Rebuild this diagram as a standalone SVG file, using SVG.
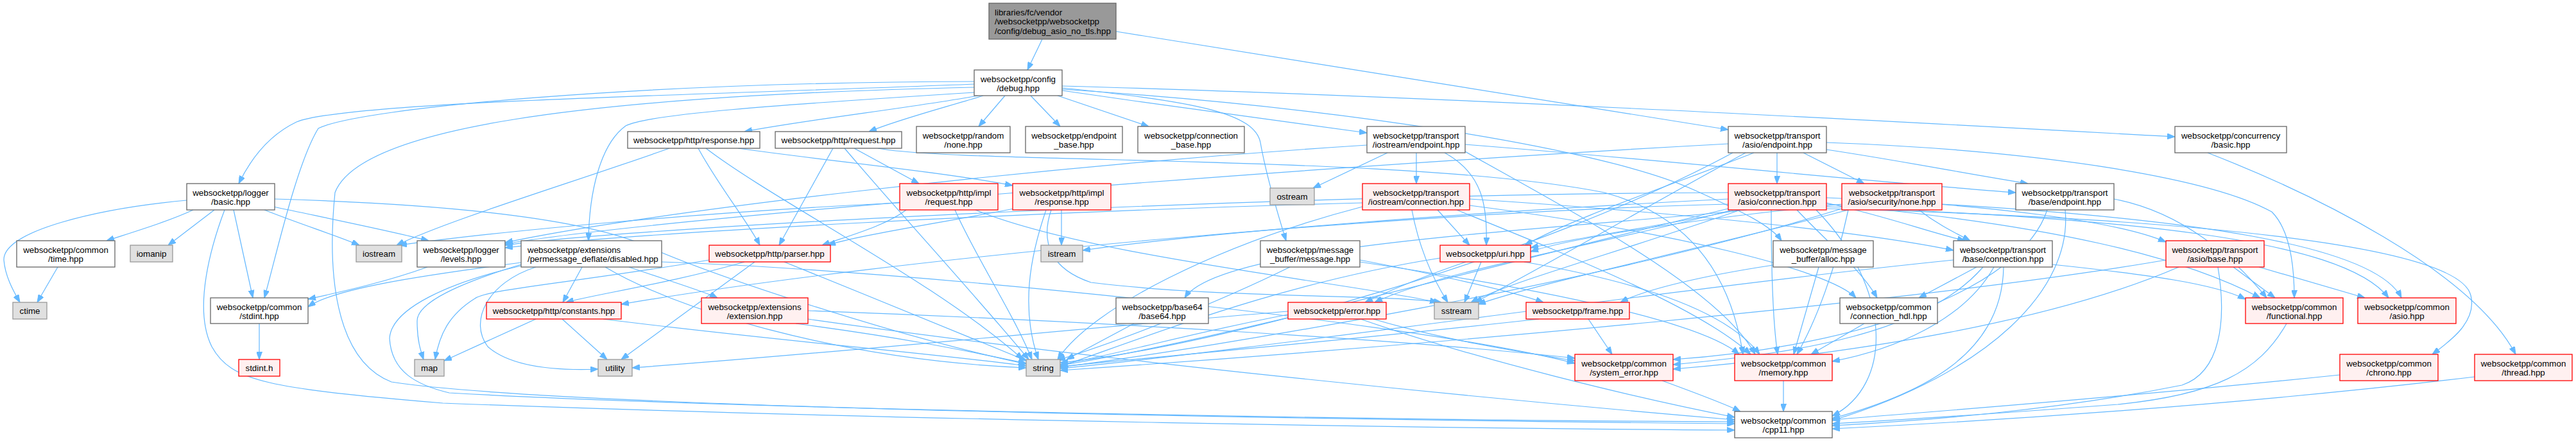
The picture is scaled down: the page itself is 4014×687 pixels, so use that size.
<svg xmlns="http://www.w3.org/2000/svg" width="4014" height="687" viewBox="0 0 4014 687">
<defs>
<style>
rect{stroke-width:1.3}
.n rect{fill:#ffffff;stroke:#666666}
.g rect{fill:#e0e0e0;stroke:#999999}
.r rect{fill:#fff0f0;stroke:#ff0000}
.root rect{fill:#999999;stroke:#666666}
text{font-family:"Liberation Sans",Arial,Helvetica,sans-serif;font-size:13.33px;fill:#000;text-anchor:middle}
.l text{text-anchor:start}
#edges path{fill:none;stroke:#63b8ff;stroke-width:1.2;marker-end:url(#ah)}
</style>
<marker id="ah" viewBox="0 0 12 9" refX="12" refY="4.5" markerWidth="12" markerHeight="9" markerUnits="userSpaceOnUse" orient="auto"><path d="M0,0 L12,4.5 L0,9 z" fill="#63b8ff" stroke="#63b8ff"/></marker>
</defs>
<rect width="4014" height="687" fill="#ffffff"/>
<g id="edges">
<path d="M1624,61 C1617,76 1609,92 1601,109"/>
<path d="M1739,49 C2050,99 2380,152 2693,202"/>
<path d="M1518,131 C1100,148 540,158 462,190 C420,210 392,245 372,286"/>
<path d="M1524,149 C1420,168 1260,186 1160,205"/>
<path d="M1532,149 C1470,168 1400,186 1354,205"/>
<path d="M1566,149 L1525,197"/>
<path d="M1606,149 L1652,197"/>
<path d="M1648,149 L1790,197"/>
<path d="M1655,141 C1820,165 2000,190 2130,207"/>
<path d="M1655,134 C2250,150 3000,192 3389,213"/>
<path d="M1655,137 C1870,158 1955,178 1964,222 C1972,268 1990,330 2004,375"/>
<path d="M1655,139 C2100,168 2500,232 2640,296 C2720,332 2760,352 2776,375"/>
<path d="M1518,144 C1200,164 1010,178 975,196 C935,225 918,300 917,375"/>
<path d="M1518,127 C1000,128 560,168 496,200 C462,255 430,400 412,464"/>
<path d="M1518,136 C900,150 560,200 522,300 C510,420 520,560 610,595 C900,640 2300,656 2703,660"/>
<path d="M291,312 C150,325 5,360 6,405 C8,430 20,452 31,471"/>
<path d="M301,327 C262,345 212,360 166,375"/>
<path d="M334,327 L262,382"/>
<path d="M350,327 C330,380 300,480 330,540 C360,595 420,605 690,628 C1400,655 2300,668 2703,670"/>
<path d="M364,327 L394,464"/>
<path d="M412,327 C470,350 522,366 560,382"/>
<path d="M426,322 C520,342 610,360 668,375"/>
<path d="M428,310 C700,318 900,340 1000,380 C1110,430 1400,525 1599,567"/>
<path d="M666,416 C600,440 525,456 480,466"/>
<path d="M90,416 L58,471"/>
<path d="M404,504 L404,560"/>
<path d="M1043,231 C900,282 700,342 618,382"/>
<path d="M1088,231 C1120,290 1165,345 1184,382"/>
<path d="M1100,231 C1210,315 1460,440 1594,560"/>
<path d="M1150,231 C1300,252 1470,268 1578,289"/>
<path d="M1298,231 L1214,382"/>
<path d="M1316,231 C1400,330 1520,460 1603,560"/>
<path d="M1331,231 L1432,286"/>
<path d="M1368,231 C1500,256 2200,240 2500,300 C2650,340 2700,450 2716,552"/>
<path d="M1412,327 C1380,352 1320,368 1281,382"/>
<path d="M1488,327 C1520,400 1580,490 1608,560"/>
<path d="M1520,327 C1700,400 2100,440 2240,471"/>
<path d="M1402,316 C1100,330 780,360 622,382"/>
<path d="M1654,327 L1654,382"/>
<path d="M1580,325 C1450,350 1330,368 1290,382"/>
<path d="M1630,327 C1605,400 1590,480 1618,560"/>
<path d="M1638,327 C1620,380 1640,420 1700,440 C1900,465 2150,458 2246,471"/>
<path d="M2162,238 L2046,293"/>
<path d="M2207,238 L2207,286"/>
<path d="M2251,238 C2310,270 2318,320 2316,382"/>
<path d="M2283,236 C2450,330 2680,450 2735,552"/>
<path d="M2283,225 C2600,250 2900,282 3141,300"/>
<path d="M2130,226 C1600,260 1000,332 787,378"/>
<path d="M2290,310 C2600,330 2900,360 3044,390"/>
<path d="M2240,327 L2290,382"/>
<path d="M2123,316 C1600,330 1000,362 787,386"/>
<path d="M2290,320 C2600,360 2850,420 2892,464"/>
<path d="M2270,327 C2450,400 2650,480 2728,552"/>
<path d="M2123,322 C1900,380 1700,480 1648,560"/>
<path d="M2200,327 C2210,380 2230,430 2256,471"/>
<path d="M2769,238 L2769,286"/>
<path d="M2810,238 L2905,286"/>
<path d="M2846,233 C2960,250 3060,270 3160,286"/>
<path d="M2733,238 C2600,290 2450,340 2376,382"/>
<path d="M2693,224 C2000,262 1000,342 787,380"/>
<path d="M2846,222 C3200,235 3450,280 3540,330 C3570,360 3575,420 3575,464"/>
<path d="M2720,238 C2550,330 2400,420 2298,471"/>
<path d="M2700,238 C2400,400 1900,540 1652,565"/>
<path d="M2846,308 C3100,318 3300,345 3375,377"/>
<path d="M2846,316 C2950,340 3000,360 3062,375"/>
<path d="M2693,300 C2000,302 1000,352 787,382"/>
<path d="M2693,318 C2200,330 1400,400 968,474"/>
<path d="M2722,327 C2400,360 1900,380 1846,464"/>
<path d="M2700,327 C2500,380 2250,420 2142,471"/>
<path d="M2708,327 C2600,350 2450,372 2385,386"/>
<path d="M2846,322 C3300,340 3650,370 3722,464"/>
<path d="M2846,325 C3400,340 3830,380 3850,460 C3860,500 3820,530 3790,552"/>
<path d="M2830,327 C2950,450 2950,600 2855,648"/>
<path d="M2760,327 C2760,420 2762,500 2770,552"/>
<path d="M2846,318 C3200,350 3400,400 3522,464"/>
<path d="M2800,327 C2850,380 2900,420 2925,464"/>
<path d="M2693,310 C2300,330 1900,360 1687,390"/>
<path d="M2712,327 C2500,400 2350,440 2292,471"/>
<path d="M2693,325 C2300,420 1900,530 1652,569"/>
<path d="M2870,318 C2650,340 2450,370 2385,392"/>
<path d="M2990,327 C3020,350 3045,362 3070,375"/>
<path d="M3026,318 C3400,340 3700,380 3742,464"/>
<path d="M2880,327 C2860,420 2830,500 2800,552"/>
<path d="M2880,327 C2600,400 2400,440 2303,474"/>
<path d="M2870,325 C2500,440 1900,540 1652,572"/>
<path d="M3218,327 C3230,450 3100,580 2855,655"/>
<path d="M3294,310 C3400,330 3480,400 3532,464"/>
<path d="M3190,327 C3150,450 2900,540 2607,560"/>
<path d="M3080,416 L2990,464"/>
<path d="M3107,416 C3060,500 2950,545 2855,563"/>
<path d="M3090,416 C3000,520 2800,550 2607,568"/>
<path d="M3122,416 C3120,550 3000,612 2855,652"/>
<path d="M3198,412 C3350,428 3450,442 3499,466"/>
<path d="M3044,405 C2600,450 2000,540 1652,574"/>
<path d="M3480,416 L3545,464"/>
<path d="M3520,416 L3685,464"/>
<path d="M3456,416 C3470,500 3460,580 3400,600 C3200,640 3000,655 2855,663"/>
<path d="M3395,416 C3200,500 2900,550 2607,575"/>
<path d="M3375,405 C3000,470 2200,540 1652,577"/>
<path d="M2119,408 C2400,450 2650,500 2710,552"/>
<path d="M2119,405 C2250,430 2350,452 2405,471"/>
<path d="M2010,416 C1900,470 1750,530 1648,561"/>
<path d="M2834,416 L2795,552"/>
<path d="M2763,413 C2650,430 2560,452 2525,471"/>
<path d="M2284,408 C2220,430 2160,455 2127,471"/>
<path d="M2308,408 L2282,471"/>
<path d="M2375,408 C2500,430 2680,470 2742,552"/>
<path d="M2244,402 C2000,440 1800,520 1652,571"/>
<path d="M2120,497 C2300,560 2550,620 2703,650"/>
<path d="M2140,497 C2250,530 2380,550 2454,562"/>
<path d="M2007,490 C1850,520 1750,550 1652,568"/>
<path d="M2007,485 C1700,510 1300,550 985,573"/>
<path d="M2475,497 L2512,552"/>
<path d="M2398,497 C2100,530 1800,556 1652,571"/>
<path d="M1767,504 L1662,560"/>
<path d="M2590,593 C2650,615 2690,630 2712,641"/>
<path d="M2779,593 L2779,641"/>
<path d="M2905,504 L2822,552"/>
<path d="M3563,504 C3520,580 3450,615 3300,630 C3100,645 2950,655 2855,660"/>
<path d="M3646,584 C3300,620 3000,642 2855,654"/>
<path d="M3856,587 C3500,630 3100,656 2855,668"/>
<path d="M3440,238 C3600,300 3850,420 3920,552"/>
<path d="M1160,408 C1050,440 920,460 882,471"/>
<path d="M1105,405 C900,440 760,450 740,465 C700,490 685,520 678,560"/>
<path d="M1176,408 L968,560"/>
<path d="M1222,408 C1350,460 1500,520 1600,562"/>
<path d="M835,497 L692,562"/>
<path d="M876,497 L946,560"/>
<path d="M940,497 C1200,530 1450,550 1599,570"/>
<path d="M907,416 L877,471"/>
<path d="M980,416 C1050,440 1100,455 1118,464"/>
<path d="M835,416 C760,440 730,500 760,540 C800,575 880,577 932,575"/>
<path d="M812,412 C720,440 650,470 650,500 C650,530 655,545 660,560"/>
<path d="M812,414 C700,440 610,480 607,527 C610,580 650,600 700,612 C1200,640 2300,656 2703,657"/>
<path d="M943,416 C1050,480 1300,560 1599,573"/>
<path d="M1031,408 C1400,420 2200,500 2454,566"/>
<path d="M812,409 C650,430 520,450 480,478"/>
<path d="M1240,504 C1400,525 1500,545 1599,566"/>
<path d="M1259,484 C1700,500 2200,530 2454,558"/>
<path d="M1259,497 C1700,560 2300,620 2703,654"/>
</g>
<g id="n1" class="root l"><rect x="1541" y="5" width="198" height="56"/><text x="1550" y="23.5">libraries/fc/vendor</text><text x="1550" y="38">/websocketpp/websocketpp</text><text x="1550" y="53">/config/debug_asio_no_tls.hpp</text></g>
<g id="n2" class="n"><rect x="1518" y="109" width="137" height="40"/><text x="1586.5" y="127.5">websocketpp/config</text><text x="1586.5" y="142">/debug.hpp</text></g>
<g id="n3" class="n"><rect x="291" y="286" width="137" height="41"/><text x="359.5" y="304.5">websocketpp/logger</text><text x="359.5" y="319">/basic.hpp</text></g>
<g id="n4" class="n"><rect x="978" y="205" width="206" height="26"/><text x="1081" y="222.5">websocketpp/http/response.hpp</text></g>
<g id="n5" class="n"><rect x="1208" y="205" width="197" height="26"/><text x="1306.5" y="222.5">websocketpp/http/request.hpp</text></g>
<g id="n6" class="n"><rect x="1428" y="197" width="146" height="41"/><text x="1501" y="215.5">websocketpp/random</text><text x="1501" y="230">/none.hpp</text></g>
<g id="n7" class="n"><rect x="1598" y="197" width="151" height="41"/><text x="1673.5" y="215.5">websocketpp/endpoint</text><text x="1673.5" y="230">_base.hpp</text></g>
<g id="n8" class="n"><rect x="1773" y="197" width="166" height="41"/><text x="1856" y="215.5">websocketpp/connection</text><text x="1856" y="230">_base.hpp</text></g>
<g id="n9" class="n"><rect x="2130" y="197" width="153" height="41"/><text x="2206.5" y="215.5">websocketpp/transport</text><text x="2206.5" y="230">/iostream/endpoint.hpp</text></g>
<g id="n10" class="n"><rect x="2693" y="197" width="153" height="41"/><text x="2769.5" y="215.5">websocketpp/transport</text><text x="2769.5" y="230">/asio/endpoint.hpp</text></g>
<g id="n11" class="n"><rect x="3389" y="197" width="174" height="41"/><text x="3476" y="215.5">websocketpp/concurrency</text><text x="3476" y="230">/basic.hpp</text></g>
<g id="n12" class="r"><rect x="1402" y="286" width="153" height="41"/><text x="1478.5" y="304.5">websocketpp/http/impl</text><text x="1478.5" y="319">/request.hpp</text></g>
<g id="n13" class="r"><rect x="1578" y="286" width="153" height="41"/><text x="1654.5" y="304.5">websocketpp/http/impl</text><text x="1654.5" y="319">/response.hpp</text></g>
<g id="n14" class="g"><rect x="1979" y="293" width="69" height="26"/><text x="2013.5" y="310.5">ostream</text></g>
<g id="n15" class="r"><rect x="2123" y="286" width="167" height="41"/><text x="2206.5" y="304.5">websocketpp/transport</text><text x="2206.5" y="319">/iostream/connection.hpp</text></g>
<g id="n16" class="r"><rect x="2693" y="286" width="153" height="41"/><text x="2769.5" y="304.5">websocketpp/transport</text><text x="2769.5" y="319">/asio/connection.hpp</text></g>
<g id="n17" class="r"><rect x="2870" y="286" width="156" height="41"/><text x="2948" y="304.5">websocketpp/transport</text><text x="2948" y="319">/asio/security/none.hpp</text></g>
<g id="n18" class="n"><rect x="3141" y="286" width="153" height="41"/><text x="3217.5" y="304.5">websocketpp/transport</text><text x="3217.5" y="319">/base/endpoint.hpp</text></g>
<g id="n19" class="n"><rect x="26" y="375" width="153" height="41"/><text x="102.5" y="393.5">websocketpp/common</text><text x="102.5" y="408">/time.hpp</text></g>
<g id="n20" class="g"><rect x="203" y="382" width="66" height="26"/><text x="236" y="399.5">iomanip</text></g>
<g id="n21" class="g"><rect x="555" y="382" width="71" height="26"/><text x="590.5" y="399.5">iostream</text></g>
<g id="n22" class="n"><rect x="650" y="375" width="137" height="41"/><text x="718.5" y="393.5">websocketpp/logger</text><text x="718.5" y="408">/levels.hpp</text></g>
<g id="n23" class="n l"><rect x="812" y="375" width="219" height="41"/><text x="822" y="393.5">websocketpp/extensions</text><text x="822" y="408">/permessage_deflate/disabled.hpp</text></g>
<g id="n24" class="r"><rect x="1105" y="382" width="189" height="26"/><text x="1199.5" y="399.5">websocketpp/http/parser.hpp</text></g>
<g id="n25" class="g"><rect x="1622" y="382" width="65" height="26"/><text x="1654.5" y="399.5">istream</text></g>
<g id="n26" class="n"><rect x="1964" y="375" width="155" height="41"/><text x="2041.5" y="393.5">websocketpp/message</text><text x="2041.5" y="408">_buffer/message.hpp</text></g>
<g id="n27" class="r"><rect x="2244" y="382" width="141" height="26"/><text x="2314.5" y="399.5">websocketpp/uri.hpp</text></g>
<g id="n28" class="n"><rect x="2763" y="375" width="156" height="41"/><text x="2841" y="393.5">websocketpp/message</text><text x="2841" y="408">_buffer/alloc.hpp</text></g>
<g id="n29" class="n"><rect x="3044" y="375" width="154" height="41"/><text x="3121" y="393.5">websocketpp/transport</text><text x="3121" y="408">/base/connection.hpp</text></g>
<g id="n30" class="r"><rect x="3375" y="375" width="153" height="41"/><text x="3451.5" y="393.5">websocketpp/transport</text><text x="3451.5" y="408">/asio/base.hpp</text></g>
<g id="n31" class="g"><rect x="20" y="471" width="53" height="26"/><text x="46.5" y="488.5">ctime</text></g>
<g id="n32" class="n"><rect x="328" y="464" width="152" height="40"/><text x="404" y="482.5">websocketpp/common</text><text x="404" y="497">/stdint.hpp</text></g>
<g id="n33" class="r"><rect x="758" y="471" width="210" height="26"/><text x="863" y="488.5">websocketpp/http/constants.hpp</text></g>
<g id="n34" class="r"><rect x="1093" y="464" width="166" height="40"/><text x="1176" y="482.5">websocketpp/extensions</text><text x="1176" y="497">/extension.hpp</text></g>
<g id="n35" class="n"><rect x="1739" y="464" width="144" height="40"/><text x="1811" y="482.5">websocketpp/base64</text><text x="1811" y="497">/base64.hpp</text></g>
<g id="n36" class="r"><rect x="2007" y="471" width="153" height="26"/><text x="2083.5" y="488.5">websocketpp/error.hpp</text></g>
<g id="n37" class="g"><rect x="2235" y="471" width="69" height="26"/><text x="2269.5" y="488.5">sstream</text></g>
<g id="n38" class="r"><rect x="2378" y="471" width="161" height="26"/><text x="2458.5" y="488.5">websocketpp/frame.hpp</text></g>
<g id="n39" class="n"><rect x="2867" y="464" width="152" height="40"/><text x="2943" y="482.5">websocketpp/common</text><text x="2943" y="497">/connection_hdl.hpp</text></g>
<g id="n40" class="r"><rect x="3499" y="464" width="152" height="40"/><text x="3575" y="482.5">websocketpp/common</text><text x="3575" y="497">/functional.hpp</text></g>
<g id="n41" class="r"><rect x="3674" y="464" width="153" height="40"/><text x="3750.5" y="482.5">websocketpp/common</text><text x="3750.5" y="497">/asio.hpp</text></g>
<g id="n42" class="r"><rect x="372" y="560" width="64" height="26"/><text x="404" y="577.5">stdint.h</text></g>
<g id="n43" class="g"><rect x="646" y="560" width="46" height="26"/><text x="669" y="577.5">map</text></g>
<g id="n44" class="g"><rect x="932" y="560" width="53" height="26"/><text x="958.5" y="577.5">utility</text></g>
<g id="n45" class="g"><rect x="1599" y="560" width="53" height="26"/><text x="1625.5" y="577.5">string</text></g>
<g id="n46" class="r"><rect x="2454" y="552" width="153" height="41"/><text x="2530.5" y="570.5">websocketpp/common</text><text x="2530.5" y="585">/system_error.hpp</text></g>
<g id="n47" class="r"><rect x="2703" y="552" width="152" height="41"/><text x="2779" y="570.5">websocketpp/common</text><text x="2779" y="585">/memory.hpp</text></g>
<g id="n48" class="r"><rect x="3646" y="552" width="153" height="41"/><text x="3722.5" y="570.5">websocketpp/common</text><text x="3722.5" y="585">/chrono.hpp</text></g>
<g id="n49" class="r"><rect x="3856" y="552" width="152" height="41"/><text x="3932" y="570.5">websocketpp/common</text><text x="3932" y="585">/thread.hpp</text></g>
<g id="n50" class="n"><rect x="2703" y="641" width="152" height="41"/><text x="2779" y="659.5">websocketpp/common</text><text x="2779" y="674">/cpp11.hpp</text></g>
</svg>
